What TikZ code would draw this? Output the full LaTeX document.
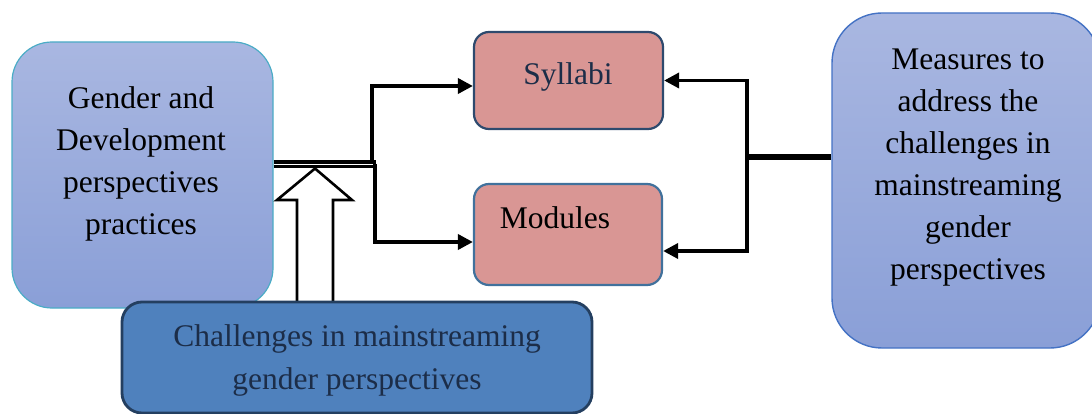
\documentclass[tikz,border=0pt]{standalone}
\usepackage{fontspec}
\setmainfont{Liberation Serif}
\usetikzlibrary{arrows.meta,calc}
\definecolor{gtop}{HTML}{A9B7E1}
\definecolor{gbot}{HTML}{8A9FD7}
\definecolor{cyanb}{HTML}{4BACC6}
\definecolor{blueb}{HTML}{4472C4}
\definecolor{pinkf}{HTML}{D99694}
\definecolor{navyb}{HTML}{2E4A6E}
\definecolor{modb}{HTML}{41719C}
\definecolor{botf}{HTML}{4F81BD}
\definecolor{botb}{HTML}{243F60}
\definecolor{navyt}{HTML}{1C2D48}
\tikzset{
  bigtxt/.style={font=\fontsize{31.5}{42}\selectfont, align=center, inner sep=0pt},
  gradbox/.style={rectangle, top color=gtop, bottom color=gbot, inner sep=0pt},
  pinkbox/.style={rectangle, fill=pinkf, rounded corners=15pt, line width=2.2pt, inner sep=0pt},
  conn/.style={line width=3.6pt},
  arr/.style={conn, -{Triangle[length=15pt,width=15pt]}},
  dbl/.style={line width=3.8pt},
}
\begin{document}
\begin{tikzpicture}[x=1pt,y=-1pt]
\useasboundingbox (0,0) rectangle (1092,414);
\clip (0,0) rectangle (1092,414);
% left box
\node[gradbox, draw=cyanb, line width=1.2pt, rounded corners=40pt, minimum width=261pt, minimum height=266pt] (lb) at (142.5,175) {};
\node[bigtxt] (lbt) at (141,164) {Gender and\\Development\\perspectives\\practices};
% right box
\node[gradbox, draw=blueb, line width=1.4pt, rounded corners=50pt, minimum width=268pt, minimum height=335pt] (rb) at (966,180.5) {};
\node[bigtxt] (rbt) at (968,168) {Measures to\\address the\\challenges in\\mainstreaming\\gender\\perspectives};
% syllabi and modules
\node[pinkbox, draw=navyb, minimum width=189pt, minimum height=97pt] (syl) at (568.5,80.5) {};
\node[font=\fontsize{31.5}{42}\selectfont, text=navyt, anchor=base, inner sep=0pt] (sylt) at (568,85) {Syllabi};
\node[pinkbox, draw=modb, minimum width=188pt, minimum height=101pt] (mod) at (568,234.5) {};
\node[font=\fontsize{31.5}{42}\selectfont, anchor=base, inner sep=0pt] (modt) at (555,229) {Modules};
% left connectors (double line)
\coordinate (ls1) at (lb.east |- 0,161.8);
\coordinate (lj1) at (376,161.8);
\coordinate (ls2) at (lb.east |- 0,166.6);
\coordinate (lj2) at (376,166.6);
\draw[dbl] (ls1) -- (lj1);
\draw[dbl] (ls2) -- (lj2);
\coordinate (ju) at (372,163.5);
\coordinate (lj) at (375,164);
\draw[arr] (ju) |- ([yshift=-5.5pt]syl.west);
\draw[arr] (lj) |- ([yshift=-7.5pt]mod.west);
% right connectors
\coordinate (rs) at (rb.west |- 0,157);
\coordinate (rj) at (747,157);
\draw[line width=6pt] (rs) -- ([xshift=-1pt]rj);
\draw[arr] (rj) |- (syl.east);
\draw[arr] (rj) |- ([yshift=-16.5pt]mod.east);
% hollow block arrow
\draw[line width=2.6pt, fill=white, line join=miter] (315,168.5) -- (352,200) -- (333,200) -- (333,305) -- (297,305) -- (297,200) -- (277,200) -- cycle;
% bottom box
\node[rectangle, fill=botf, draw=botb, line width=2.8pt, rounded corners=20pt, minimum width=470pt, minimum height=111pt, inner sep=0pt] (bb) at (357,357.5) {};
\node[bigtxt, text=navyt, font=\fontsize{31.5}{43}\selectfont] (bbt) at (357,360) {Challenges in mainstreaming\\gender perspectives};
\end{tikzpicture}
\end{document}
